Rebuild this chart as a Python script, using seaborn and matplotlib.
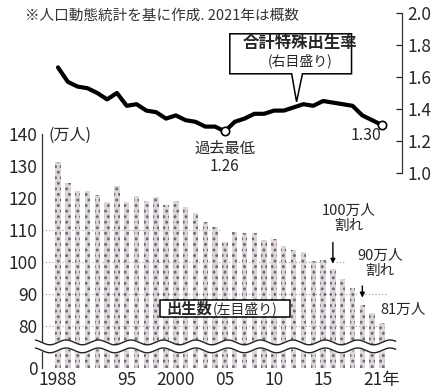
import numpy as np
import pandas as pd
import seaborn as sns
import matplotlib.pyplot as plt
from matplotlib.patches import Polygon

# ---------------------------------------------------------
# DATA
# ---------------------------------------------------------
years = list(range(1988, 2022))
births = [131.4, 124.7, 122.2, 122.3, 120.9, 118.8, 123.8, 118.7, 120.7, 119.2,
          120.3, 117.8, 119.1, 117.1, 115.4, 112.4, 111.1, 106.3, 109.3, 109.0,
          109.1, 107.0, 107.1, 105.1, 103.7, 103.0, 100.4, 100.6, 97.7, 94.6,
          91.8, 86.5, 84.1, 81.1]
tfr = [1.66, 1.57, 1.54, 1.53, 1.50, 1.46, 1.50, 1.42, 1.43, 1.39,
       1.38, 1.34, 1.36, 1.33, 1.32, 1.29, 1.29, 1.26, 1.32, 1.34,
       1.37, 1.37, 1.39, 1.39, 1.41, 1.43, 1.42, 1.45, 1.44, 1.43,
       1.42, 1.36, 1.33, 1.30]

left_ticks = [0, 80, 90, 100, 110, 120, 130, 140]
right_ticks = [1.0, 1.2, 1.4, 1.6, 1.8, 2.0]
x_ticks = [1988, 1995, 2000, 2005, 2010, 2015, 2021]
x_labels = ["1988", "95", "2000", "05", "10", "15", "21年"]

df = pd.DataFrame({"year": years, "births": births, "tfr": tfr})

# ---------------------------------------------------------
# STYLE
# ---------------------------------------------------------
sns.set_style("white")
plt.rcParams["font.family"] = ["Noto Sans CJK JP", "DejaVu Sans"]
plt.rcParams["hatch.linewidth"] = 1.3

W, H = 437, 391
fig = plt.figure(figsize=(W / 100, H / 100), dpi=100)

X0, X1 = 1986.37, 2023.04
BREAK_BOTTOM = 66.9  # where the "0" of the broken axis sits

def px_rect(l, r, t, b):
    return [l / W, 1 - b / H, (r - l) / W, (b - t) / H]

# ---------------------------------------------------------
# BIRTHS (left axis, broken)
# ---------------------------------------------------------
ax = fig.add_axes(px_rect(42, 402, 134, 368))
sns.barplot(data=df, x="year", y="births", native_scale=True, width=0.55,
            color="#ddd5da", edgecolor="#6f6470", linewidth=0, hatch="...",
            ax=ax, zorder=2)
ax.set_xlim(X0, X1)
ax.set_ylim(BREAK_BOTTOM, 140)
tick_pos = [BREAK_BOTTOM if t == 0 else t for t in left_ticks]
ax.set_yticks(tick_pos)
ax.set_yticklabels([str(t) for t in left_ticks])
ax.set_xticks(x_ticks)
ax.set_xticklabels(x_labels)
ax.set_xlabel("")
ax.set_ylabel("")

# dotted guides only where the bars still reach the level
for level in [80, 90, 100, 110]:
    below = df[df["births"] < level]
    x_end = below["year"].iloc[0] - 0.5 if len(below) else df["year"].iloc[-1]
    ax.plot([X0, x_end], [level, level], color="#999999", lw=0.8,
            ls=(0, (1, 2)), zorder=1)

for s in ["top", "right", "bottom"]:
    ax.spines[s].set_visible(False)
ax.spines["left"].set_color("#333333")
ax.spines["left"].set_linewidth(0.9)
ax.tick_params(axis="y", direction="in", length=4, width=0.9, labelsize=12.5, pad=3)
ax.tick_params(axis="x", direction="in", length=4, width=0.9, labelsize=12.5, pad=2)
ax.patch.set_alpha(0)

# wavy break
xs = np.linspace(1985.7, 2022.4, 400)
wave = 0.75 * np.sin(2 * np.pi * (xs - 1988) / 3.3)
up = 74.9 + wave
lo = 72.4 + wave
ax.fill_between(xs, lo, up, color="white", zorder=5, clip_on=False)
ax.plot(xs, up, color="#222222", lw=1.0, zorder=6, clip_on=False)
ax.plot(xs, lo, color="#222222", lw=1.0, zorder=6, clip_on=False)

ax.text(1987.0, 139.5, "(万人)", fontsize=11.5, va="center", ha="left")

# label box on the bars
ax.add_patch(plt.Rectangle((1998.4, 82.9), 13.2, 5.3, facecolor="white",
                           edgecolor="black", lw=1.1, zorder=7))
ax.text(1999.0, 85.5, "出生数", fontsize=11, fontweight="bold", ha="left",
        va="center", zorder=8)
ax.text(2003.8, 85.5, "(左目盛り)", fontsize=10, ha="left", va="center", zorder=8)

ax.text(2017.6, 113.6, "100万人\n割れ", fontsize=10.5, ha="center", va="center",
        linespacing=1.1)
ax.annotate("", xy=(2016, 98.6), xytext=(2016, 107.0),
            arrowprops=dict(arrowstyle="-|>", color="black", lw=1.0,
                            mutation_scale=7))
ax.plot([2016.3, 2017.3], [100, 100], color="#999999", lw=0.8, ls=(0, (1, 2)))
ax.text(2020.8, 99.7, "90万人\n割れ", fontsize=10.5, ha="center", va="center",
        linespacing=1.1)
ax.annotate("", xy=(2019, 88.0), xytext=(2019, 93.4),
            arrowprops=dict(arrowstyle="-|>", color="black", lw=1.0,
                            mutation_scale=7))
ax.plot([2019.3, 2021.6], [90, 90], color="#999999", lw=0.8, ls=(0, (1, 2)))
ax.text(2020.8, 85.2, "81万人", fontsize=10.5, ha="left", va="center")

# ---------------------------------------------------------
# TOTAL FERTILITY RATE (right axis)
# ---------------------------------------------------------
ax2 = fig.add_axes(px_rect(42, 402, 13, 173))
sns.lineplot(data=df, x="year", y="tfr", color="black", lw=3.0, ax=ax2)
for yr in [2005, 2021]:
    row = df[df["year"] == yr]
    ax2.plot(row["year"], row["tfr"], "o", ms=6, mfc="white", mec="black", mew=1.2,
             zorder=5)
ax2.set_xlim(X0, X1)
ax2.set_ylim(1.0, 2.0)
ax2.set_xticks([])
ax2.set_xlabel("")
ax2.set_ylabel("")
ax2.yaxis.tick_right()
ax2.set_yticks(right_ticks)
ax2.set_yticklabels([f"{t:.1f}" for t in right_ticks])
ax2.tick_params(axis="y", direction="in", length=4, width=0.9, labelsize=12.5, pad=4)
for s in ["top", "left", "bottom"]:
    ax2.spines[s].set_visible(False)
ax2.spines["right"].set_color("#333333")
ax2.spines["right"].set_linewidth(0.9)
ax2.patch.set_alpha(0)

ax2.text(2005, 1.205, "過去最低\n1.26", fontsize=11, ha="center", va="top",
         linespacing=1.1)
ax2.text(2019.4, 1.235, "1.30", fontsize=11.5, ha="center", va="center")

# callout box
ax2.text(2012.7, 1.815, "合計特殊出生率", fontsize=11.8, fontweight="bold",
         ha="center", va="center")
ax2.text(2012.7, 1.70, "(右目盛り)", fontsize=10, ha="center", va="center")
bx0, bx1, by0, by1 = 2005.5, 2017.9, 1.62, 1.87
tip_x, tip_y = 2012.3, 1.445
callout = Polygon([(bx0, by0), (bx0, by1), (bx1, by1), (bx1, by0),
                   (2012.9, by0), (tip_x, tip_y), (2011.8, by0)],
                  closed=True, facecolor="white", edgecolor="black", lw=1.1, zorder=0.5)
ax2.add_patch(callout)

# ---------------------------------------------------------
# NOTE
# ---------------------------------------------------------
fig.text(25 / W, 1 - 16 / H, "※人口動態統計を基に作成. 2021年は概数",
         fontsize=10.5, color="#333333", ha="left", va="center")

plt.savefig("out.png", dpi=100)
